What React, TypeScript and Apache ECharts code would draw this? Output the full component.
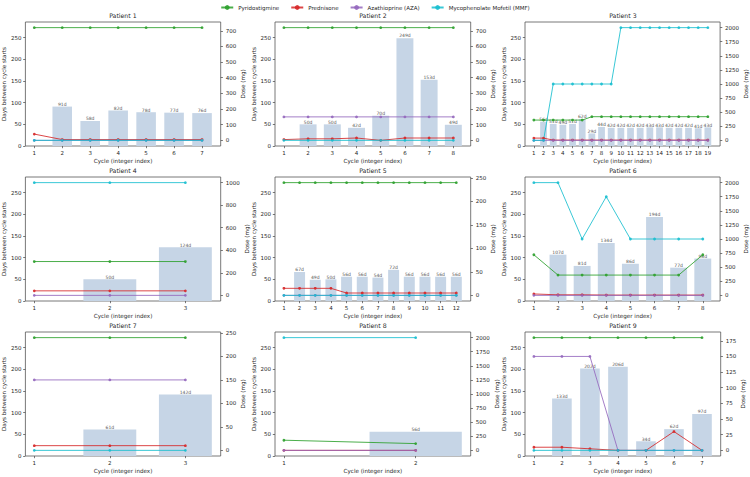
import React, { useEffect, useRef } from "react";
import * as echarts from "echarts";

const FONT = "DejaVu Sans";
const TEXT = "#262626";
const SPINE = "#555555";
const BAR_FILL = "rgb(198, 213, 230)";
const BAR_TEXT = "#555555";

const DRUGS = ["Pyridostigmine", "Prednisone", "Azathioprine (AZA)", "Mycophenolate Mofetil (MMF)"];
const DRUG_COLORS = ["#2ca02c", "#d62728", "#9467bd", "#17becf"];

const DAY_TICKS = [0, 50, 100, 150, 200, 250];

// Patient 1 — gaps are days between cycle k-1 and cycle k (k = 2..N)
const p1Gaps = [91, 58, 82, 78, 77, 76];
const p1Pyrido = [720, 720, 720, 720, 720, 720, 720];
const p1Pred = [40, 5, 5, 5, 5, 5, 5];
const p1Aza = [0, 0, 0, 0, 0, 0, 0];
const p1Mmf = [0, 0, 0, 0, 0, 0, 0];
const p1DoseTicks = [0, 100, 200, 300, 400, 500, 600, 700];

// Patient 2
const p2Gaps = [50, 50, 42, 70, 249, 153, 49];
const p2Pyrido = [720, 720, 720, 720, 720, 720, 720, 720];
const p2Pred = [5, 10, 10, 15, 0, 15, 15, 15];
const p2Aza = [150, 150, 150, 150, 150, 150, 150, 150];
const p2Mmf = [0, 0, 0, 0, 0, 0, 0, 0];
const p2DoseTicks = [0, 100, 200, 300, 400, 500, 600, 700];

// Patient 3
const p3Gaps = [56, 51, 49, 51, 62, 29, 44, 42, 42, 42, 42, 43, 43, 42, 42, 42, 41, 43];
const p3Pyrido = [360, 360, 360, 360, 360, 360, 420, 420, 420, 420, 420, 420, 420, 420, 420, 420, 420, 420, 420];
const p3Pred = [40, 40, 5, 5, 5, 5, 5, 5, 5, 5, 5, 5, 5, 5, 5, 5, 5, 5, 5];
const p3Aza = [0, 0, 0, 0, 0, 0, 0, 0, 0, 0, 0, 0, 0, 0, 0, 0, 0, 0, 0];
const p3Mmf = [0, 0, 1000, 1000, 1000, 1000, 1000, 1000, 1000, 2000, 2000, 2000, 2000, 2000, 2000, 2000, 2000, 2000, 2000];
const p3DoseTicks = [0, 250, 500, 750, 1000, 1250, 1500, 1750, 2000];

// Patient 4
const p4Gaps = [50, 124];
const p4Pyrido = [300, 300, 300];
const p4Pred = [40, 40, 40];
const p4Aza = [0, 0, 0];
const p4Mmf = [1000, 1000, 1000];
const p4DoseTicks = [0, 200, 400, 600, 800, 1000];

// Patient 5
const p5Gaps = [67, 49, 50, 56, 56, 54, 72, 56, 56, 56, 56];
const p5Pyrido = [240, 240, 240, 240, 240, 240, 240, 240, 240, 240, 240, 240];
const p5Pred = [15, 15, 15, 15, 5, 5, 5, 5, 5, 5, 5, 5];
const p5Aza = [0, 0, 0, 0, 0, 0, 0, 0, 0, 0, 0, 0];
const p5Mmf = [0, 0, 0, 0, 0, 0, 0, 0, 0, 0, 0, 0];
const p5DoseTicks = [0, 50, 100, 150, 200, 250];

// Patient 6
const p6Gaps = [107, 81, 134, 86, 194, 77, 98];
const p6Pyrido = [720, 360, 360, 360, 360, 360, 360, 720];
const p6Pred = [25, 10, 10, 5, 5, 5, 5, 5];
const p6Aza = [0, 0, 0, 0, 0, 0, 0, 0];
const p6Mmf = [2000, 2000, 1000, 1750, 1000, 1000, 1000, 1000];
const p6DoseTicks = [0, 250, 500, 750, 1000, 1250, 1500, 1750, 2000];

// Patient 7
const p7Gaps = [61, 142];
const p7Pyrido = [240, 240, 240];
const p7Pred = [10, 10, 10];
const p7Aza = [150, 150, 150];
const p7Mmf = [0, 0, 0];
const p7DoseTicks = [0, 50, 100, 150, 200, 250];

// Patient 8
const p8Gaps = [56];
const p8Pyrido = [180, 120];
const p8Pred = [0, 0];
const p8Aza = [0, 0];
const p8Mmf = [2000, 2000];
const p8DoseTicks = [0, 250, 500, 750, 1000, 1250, 1500, 1750, 2000];

// Patient 9
const p9Gaps = [133, 202, 206, 34, 62, 97];
const p9Pyrido = [180, 180, 180, 180, 180, 180, 180];
const p9Pred = [5, 5, 2.5, 0, 0, 30, 0];
const p9Aza = [150, 150, 150, 0, 0, 0, 0];
const p9Mmf = [0, 0, 0, 0, 0, 0, 0];
const p9DoseTicks = [0, 25, 50, 75, 100, 125, 150, 175];

const PATIENTS = [
  { title: "Patient 1", gaps: p1Gaps, doses: [p1Pyrido, p1Pred, p1Aza, p1Mmf], doseTicks: p1DoseTicks },
  { title: "Patient 2", gaps: p2Gaps, doses: [p2Pyrido, p2Pred, p2Aza, p2Mmf], doseTicks: p2DoseTicks },
  { title: "Patient 3", gaps: p3Gaps, doses: [p3Pyrido, p3Pred, p3Aza, p3Mmf], doseTicks: p3DoseTicks },
  { title: "Patient 4", gaps: p4Gaps, doses: [p4Pyrido, p4Pred, p4Aza, p4Mmf], doseTicks: p4DoseTicks },
  { title: "Patient 5", gaps: p5Gaps, doses: [p5Pyrido, p5Pred, p5Aza, p5Mmf], doseTicks: p5DoseTicks },
  { title: "Patient 6", gaps: p6Gaps, doses: [p6Pyrido, p6Pred, p6Aza, p6Mmf], doseTicks: p6DoseTicks },
  { title: "Patient 7", gaps: p7Gaps, doses: [p7Pyrido, p7Pred, p7Aza, p7Mmf], doseTicks: p7DoseTicks },
  { title: "Patient 8", gaps: p8Gaps, doses: [p8Pyrido, p8Pred, p8Aza, p8Mmf], doseTicks: p8DoseTicks },
  { title: "Patient 9", gaps: p9Gaps, doses: [p9Pyrido, p9Pred, p9Aza, p9Mmf], doseTicks: p9DoseTicks },
];

// panel layout (pixels)
const COL_LEFT = [25, 275, 525];
const ROW_TOP = [22, 177, 332];
const PANEL_W = 195.7;
const PANEL_H = 124;
const BAR_WIDTH = 0.7;

const tickFont = { fontSize: 5.5, color: TEXT, fontFamily: FONT };
const nameFont = { fontSize: 5.6, color: TEXT, fontFamily: FONT };

function buildOption() {
  // shared scale for the "days" axis: 15% headroom over the longest gap
  const dayMax = Math.max(...PATIENTS.flatMap((p) => p.gaps)) * 1.15;

  const grid: any[] = [];
  const xAxis: any[] = [];
  const yAxis: any[] = [];
  const series: any[] = [];
  const title: any[] = [];

  PATIENTS.forEach((p, i) => {
    const col = i % 3;
    const row = Math.floor(i / 3);
    const n = p.doses[0].length;
    const cycles = Array.from({ length: n }, (_, k) => k + 1);
    // x range covers points 1..n and bars up to n + half bar width, plus 5% padding
    const span = n + BAR_WIDTH / 2 - 1;
    const xMin = 1 - span * 0.05;
    const xMax = n + BAR_WIDTH / 2 + span * 0.05;
    const doseMax = Math.max(...p.doses.flat());

    grid.push({
      left: COL_LEFT[col],
      top: ROW_TOP[row],
      width: PANEL_W,
      height: PANEL_H,
      show: true,
      borderColor: SPINE,
      borderWidth: 0.8,
      backgroundColor: "transparent",
    });

    title.push({
      text: p.title,
      left: COL_LEFT[col] + PANEL_W / 2,
      top: ROW_TOP[row] - 9.5,
      textAlign: "center",
      padding: 0,
      textStyle: { fontSize: 6.2, fontWeight: "normal", color: TEXT, fontFamily: FONT },
    });

    xAxis.push({
      gridIndex: i,
      type: "value",
      min: xMin,
      max: xMax,
      axisLine: { show: false, onZero: false },
      axisTick: { show: true, length: 2.2, lineStyle: { color: SPINE, width: 0.8 }, customValues: cycles },
      axisLabel: { ...tickFont, margin: 4, customValues: cycles, formatter: (v: number) => String(v) },
      splitLine: { show: false },
      name: "Cycle (integer index)",
      nameLocation: "middle",
      nameGap: 11.5,
      nameTextStyle: nameFont,
    });

    yAxis.push({
      gridIndex: i,
      type: "value",
      position: "left",
      min: 0,
      max: dayMax,
      axisLine: { show: false, onZero: false },
      axisTick: { show: true, length: 2.2, lineStyle: { color: SPINE, width: 0.8 }, customValues: DAY_TICKS },
      axisLabel: { ...tickFont, margin: 4, customValues: DAY_TICKS, formatter: (v: number) => String(v) },
      splitLine: { show: false },
      name: "Days between cycle starts",
      nameLocation: "middle",
      nameRotate: 90,
      nameGap: 15,
      nameTextStyle: nameFont,
    });

    yAxis.push({
      gridIndex: i,
      type: "value",
      position: "right",
      min: -0.05 * doseMax,
      max: 1.05 * doseMax,
      axisLine: { show: false, onZero: false },
      axisTick: { show: true, length: 2.2, lineStyle: { color: SPINE, width: 0.8 }, customValues: p.doseTicks },
      axisLabel: { ...tickFont, margin: 5, customValues: p.doseTicks, formatter: (v: number) => String(v) },
      splitLine: { show: false },
      name: "Dose (mg)",
      nameLocation: "middle",
      nameRotate: 90,
      nameGap: 18,
      nameTextStyle: nameFont,
    });

    // interval bars with their "Nd" labels
    series.push({
      type: "custom",
      coordinateSystem: "cartesian2d",
      xAxisIndex: i,
      yAxisIndex: 2 * i,
      silent: true,
      z: 1,
      encode: { x: 0, y: 1 },
      data: p.gaps.map((g, k) => [k + 2, g]),
      renderItem: (_params: any, api: any) => {
        const x = api.value(0);
        const v = api.value(1);
        const top = api.coord([x, v]);
        const base = api.coord([x, 0]);
        const w = api.size([BAR_WIDTH, 0])[0];
        return {
          type: "group",
          children: [
            {
              type: "rect",
              shape: { x: top[0] - w / 2, y: top[1], width: w, height: base[1] - top[1] },
              style: { fill: BAR_FILL },
            },
            {
              type: "text",
              x: top[0],
              y: top[1] + 0.3,
              style: {
                text: `${v}d`,
                fill: BAR_TEXT,
                fontSize: 4.5,
                fontFamily: FONT,
                align: "center",
                verticalAlign: "bottom",
              },
            },
          ],
        };
      },
    });

    p.doses.forEach((vals, d) => {
      series.push({
        type: "line",
        name: DRUGS[d],
        xAxisIndex: i,
        yAxisIndex: 2 * i + 1,
        data: vals.map((v, k) => [cycles[k], v]),
        symbol: "circle",
        symbolSize: 2.8,
        showSymbol: true,
        silent: true,
        z: 3,
        lineStyle: { color: DRUG_COLORS[d], width: 1, opacity: 0.85 },
        itemStyle: { color: DRUG_COLORS[d], opacity: 0.9 },
      });
    });
  });

  return {
    animation: false,
    backgroundColor: "#ffffff",
    textStyle: { fontFamily: FONT },
    title,
    legend: {
      data: DRUGS,
      top: 4.5,
      left: "center",
      padding: 0,
      itemWidth: 12,
      itemHeight: 6,
      itemGap: 11,
      textStyle: { fontSize: 5.5, color: TEXT, fontFamily: FONT },
    },
    grid,
    xAxis,
    yAxis,
    series,
  };
}

export default function App() {
  const ref = useRef<HTMLDivElement>(null);
  useEffect(() => {
    if (!ref.current) return;
    const chart = echarts.init(ref.current, null, { renderer: "svg" });
    chart.setOption(buildOption() as any);
    return () => chart.dispose();
  }, []);
  return (
    <div
      ref={ref}
      style={{ position: "fixed", left: 0, top: 0, width: 750, height: 477, background: "#fff" }}
    />
  );
}
